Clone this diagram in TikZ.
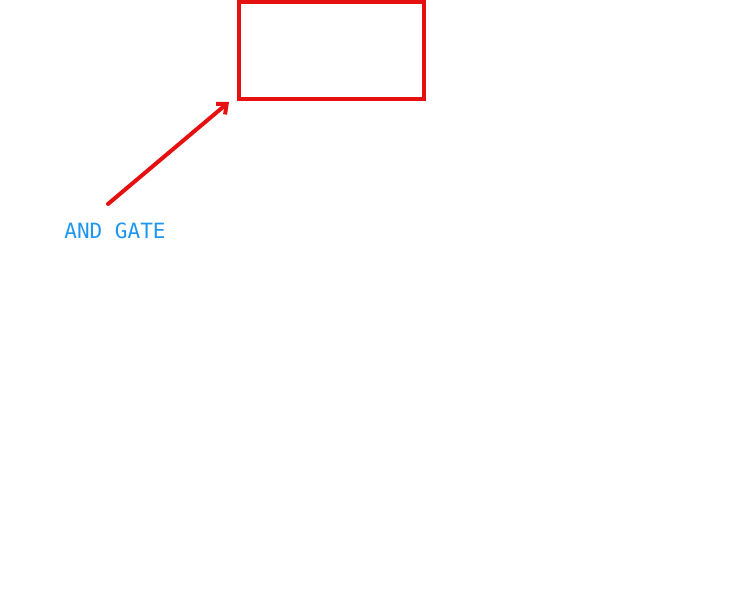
\documentclass[tikz,border=0pt]{standalone}
\usepackage{fontspec}
\newfontfamily\monof{DejaVu Sans Mono}
\usetikzlibrary{arrows.meta}
\definecolor{gred}{RGB}{230,16,16}
\definecolor{gblue}{RGB}{30,150,240}
\begin{document}
\begin{tikzpicture}[x=1pt,y=1pt]
\useasboundingbox (0,0) rectangle (753,609);
\node[draw=gred,line width=4pt,minimum width=185pt,minimum height=97pt,inner sep=0] (gate) at (331.5,558.5) {};
\node[text=gblue,font=\monof\fontsize{21}{24}\selectfont,inner sep=0] (lab) at (115,378) {AND GATE};
\coordinate (s) at (108,405);
\draw[gred,line width=4pt,line cap=round,-{Straight Barb[length=8pt,width=14pt]}] (s) -- (229,507);
\end{tikzpicture}
\end{document}
